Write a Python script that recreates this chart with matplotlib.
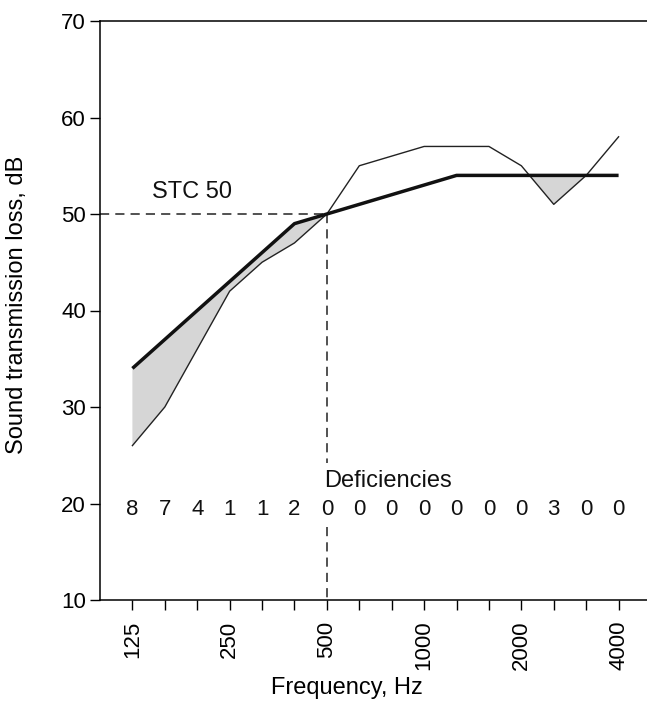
import matplotlib
matplotlib.use("Agg")
import matplotlib.pyplot as plt
import numpy as np

plt.rcParams['font.family'] = ['Liberation Sans', 'DejaVu Sans']

bands = [125, 160, 200, 250, 315, 400, 500, 630, 800, 1000, 1250, 1600, 2000, 2500, 3150, 4000]
measured = [26, 30, 36, 42, 45, 47, 50, 55, 56, 57, 57, 57, 55, 51, 54, 58]
contour = [34, 37, 40, 43, 46, 49, 50, 51, 52, 53, 54, 54, 54, 54, 54, 54]
deficiencies = [8, 7, 4, 1, 1, 2, 0, 0, 0, 0, 0, 0, 0, 3, 0, 0]
major_labels = ["125", "250", "500", "1000", "2000", "4000"]
stc = 50

FS = 16
FSL = 17

x = np.arange(len(bands))
meas = np.array(measured)
cont = np.array(contour)

fig = plt.figure(figsize=(6.47, 7.05), dpi=100)
ax = fig.add_axes([100/647, 1 - 600/705, 551/647, 579/705])

ax.fill_between(x, meas, cont, where=meas < cont, interpolate=True,
                color='#d6d6d6', linewidth=0, zorder=1)
ax.plot(x, meas, color='#222222', lw=1.0, zorder=3)
ax.plot(x, cont, color='#111111', lw=2.5, zorder=4, solid_capstyle='butt')

i500 = bands.index(500)
ax.plot([-1, i500], [stc, stc], color='#222222', lw=1.1, dashes=(6, 4), zorder=2)
ax.plot([i500, i500], [stc, 24.2], color='#222222', lw=1.1, dashes=(6, 4), zorder=2)
ax.plot([i500, i500], [17.6, 10], color='#222222', lw=1.1, dashes=(6, 4), zorder=2)

ax.text(0.6, 52.3, "STC 50", fontsize=FSL, ha='left', va='center', color='#111111')
ax.text(i500 - 0.07, 22.3, "Deficiencies", fontsize=FSL, ha='left', va='center', color='#111111')
for xi, d in zip(x, deficiencies):
    ax.text(xi, 19.4, str(d), fontsize=FS, ha='center', va='center', color='#111111')

ax.set_xlim(-1, 16)
ax.set_ylim(10, 70)
ax.set_yticks(range(10, 71, 10))
ax.set_xticks(x, minor=True)
ax.set_xticks([bands.index(int(l)) for l in major_labels])
ax.set_xticklabels(major_labels, rotation=90, fontsize=FS)
ax.tick_params(axis='y', labelsize=FS, length=7, width=1, direction='out', pad=3)
ax.tick_params(axis='x', which='both', length=7, width=1, direction='out')
ax.tick_params(axis='x', which='major', pad=8)

ax.spines['right'].set_visible(False)
for s in ['left', 'top', 'bottom']:
    ax.spines[s].set_linewidth(1.1)

ax.set_xlabel("Frequency, Hz", fontsize=FSL)
ax.set_ylabel("Sound transmission loss, dB", fontsize=FSL)
ax.xaxis.set_label_coords(0.448, -0.133)
ax.yaxis.set_label_coords(-0.131, 0.51)

fig.savefig("out.png", dpi=100)
